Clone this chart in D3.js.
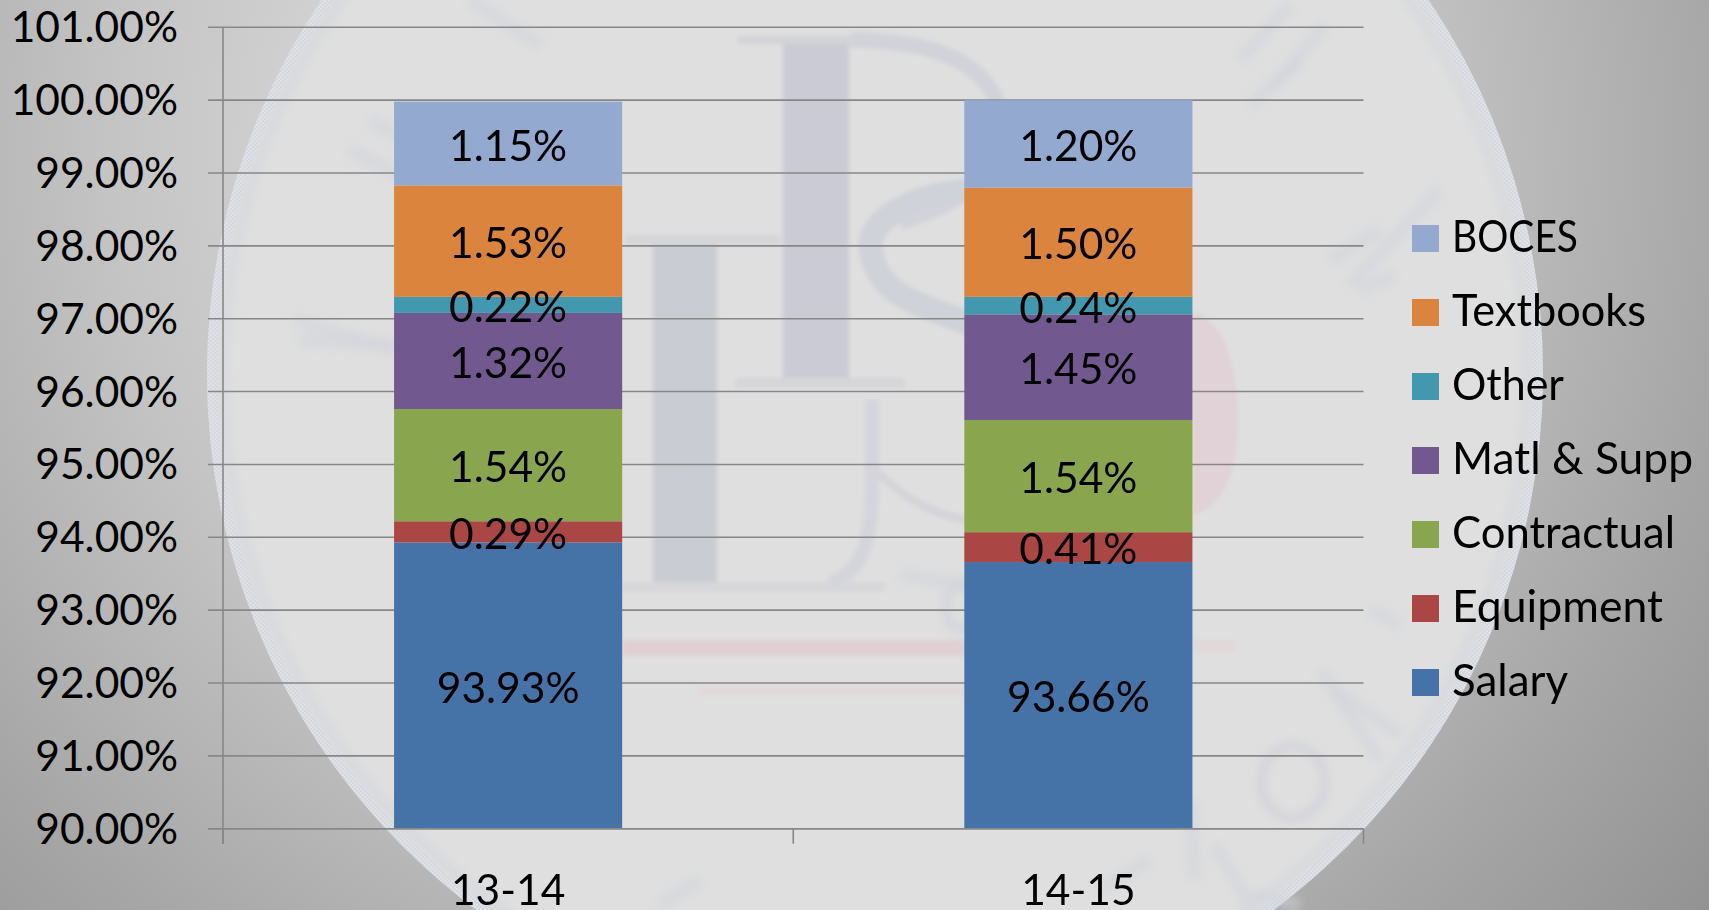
<!DOCTYPE html>
<html>
<head>
<meta charset="utf-8">
<script src="https://cdn.jsdelivr.net/npm/d3@7"></script>
<style>
html,body{margin:0;padding:0;background:#aaa;overflow:hidden}
svg{display:block}
text{font-family:Lato,"Open Sans",sans-serif;fill:#000}
</style>
</head>
<body>
<svg id="chart" width="1709" height="910"></svg>
<script>
const categories = ["13-14", "14-15"];
const seriesNames = ["Salary", "Equipment", "Contractual", "Matl & Supp", "Other", "Textbooks", "BOCES"];
const salary = [93.93, 93.66];
const equipment = [0.29, 0.41];
const contractual = [1.54, 1.54];
const matlSupp = [1.32, 1.45];
const other = [0.22, 0.24];
const textbooks = [1.53, 1.50];
const boces = [1.15, 1.20];
const seriesColors = ["#4572A7", "#AA4643", "#89A54E", "#71588F", "#4198AF", "#DB843D", "#93A9CF"];
const yTicks = [90, 91, 92, 93, 94, 95, 96, 97, 98, 99, 100, 101];

const seriesValues = [salary, equipment, contractual, matlSupp, other, textbooks, boces];
const table = categories.map((c, i) => {
  const row = {category: c};
  seriesNames.forEach((s, j) => row[s] = seriesValues[j][i]);
  return row;
});

const W = 1709, H = 910, FS = 42.5;
const svg = d3.select("#chart");
const defs = svg.append("defs");

const grad = defs.append("radialGradient").attr("id", "bg")
  .attr("gradientUnits", "userSpaceOnUse")
  .attr("cx", 760).attr("cy", 150).attr("r", 1300);
[[0, "#f0f0f0"], [0.5, "#c4c4c4"], [0.75, "#a6a6a6"], [1, "#8c8c8c"]]
  .forEach(s => grad.append("stop").attr("offset", s[0]).attr("stop-color", s[1]));
defs.append("filter").attr("id", "blur").attr("x", "-30%").attr("y", "-30%").attr("width", "160%").attr("height", "160%")
  .append("feGaussianBlur").attr("stdDeviation", 4);
defs.append("filter").attr("id", "blur2").attr("x", "-20%").attr("y", "-20%").attr("width", "140%").attr("height", "140%")
  .append("feGaussianBlur").attr("stdDeviation", 2);
const dither = defs.append("pattern").attr("id", "dither").attr("patternUnits", "userSpaceOnUse").attr("width", 4).attr("height", 4);
dither.append("rect").attr("width", 4).attr("height", 4).attr("fill", "#cfd4dd");
dither.append("rect").attr("width", 2).attr("height", 2).attr("fill", "#e2e4ea");
dither.append("rect").attr("x", 2).attr("y", 2).attr("width", 2).attr("height", 2).attr("fill", "#e2e4ea");

// backdrop: gradient slide background and faded seal
svg.append("rect").attr("width", W).attr("height", H).attr("fill", "url(#bg)");
const seal = svg.append("g");
seal.append("circle").attr("cx", 875).attr("cy", 374).attr("r", 668).attr("fill", "#dfdfdf");
seal.append("circle").attr("cx", 875).attr("cy", 374).attr("r", 663).attr("fill", "none")
  .attr("stroke", "url(#dither)").attr("stroke-width", 10).attr("opacity", 0.6);
seal.append("circle").attr("cx", 875).attr("cy", 374).attr("r", 652).attr("fill", "none")
  .attr("stroke", "#cdd2da").attr("stroke-width", 12).attr("opacity", 0.4).attr("filter", "url(#blur)");

const wm = seal.append("g").attr("filter", "url(#blur2)");
// P
wm.append("path").attr("d", "M783 44H849V384H783Z").attr("fill", "#cbcbd6");
wm.append("path").attr("d", "M738 36H900V44H738Z").attr("fill", "#d3d3d7");
wm.append("path").attr("d", "M735 378H905V388H735Z").attr("fill", "#d6d6d9");
wm.append("path").attr("d", "M850 40C930 40 985 60 1000 110C1010 170 960 205 900 222").attr("fill", "none").attr("stroke", "#d2d3da").attr("stroke-width", 16);
// S
wm.append("path").attr("d", "M985 190C930 190 875 210 870 245C875 290 905 300 960 320C1000 335 1015 350 1010 385").attr("fill", "none").attr("stroke", "#d0d2d9").attr("stroke-width", 24);
// L
wm.append("path").attr("d", "M653 245H717V585H653Z").attr("fill", "#c9ccd2");
wm.append("path").attr("d", "M625 235H780V245H625Z").attr("fill", "#d6d6d9");
wm.append("path").attr("d", "M622 582H885V592H622Z").attr("fill", "#d7d7da");
wm.append("path").attr("d", "M872 400V480C872 550 860 570 830 584").attr("fill", "none").attr("stroke", "#d4d4dc").attr("stroke-width", 14);
wm.append("path").attr("d", "M870 465C900 495 930 515 968 520").attr("fill", "none").attr("stroke", "#d4d4d9").attr("stroke-width", 8);
// red swooshes and blob
wm.append("path").attr("d", "M622 640H975V656H622Z").attr("fill", "#e0d0d3");
wm.append("path").attr("d", "M1193 640H1235V652H1193Z").attr("fill", "#e0d8d9");
wm.append("path").attr("d", "M700 686H975V696H700Z").attr("fill", "#e3d8d9");
wm.append("path").attr("d", "M1193 312C1225 320 1238 370 1238 420C1238 470 1225 505 1193 515Z").attr("fill", "#e0d2d6");
// seal lettering, faded beyond reading
const strokes = [
  "M1240 60L1290 5", "M1275 85L1325 25", "M1250 105L1300 60", "M1350 285L1440 190", "M1330 260L1380 230", "M1360 290L1395 275",
  "M1335 690L1400 735", "M1320 670L1380 760", "M1370 610L1400 625", "M1215 845L1250 905", "M1190 800L1195 880", "M1250 895L1300 905",
  "M370 120L440 160", "M350 150L430 190", "M295 320L395 350", "M300 340L395 345", "M470 0L540 45", "M1100 890L1150 860",
  "M660 905L700 880", "M450 700L500 660", "M485 720L520 700", "M900 575L1000 590"
];
seal.append("g").attr("filter", "url(#blur)").selectAll("path").data(strokes).join("path")
  .attr("d", d => d).attr("fill", "none").attr("stroke", "#cfd3da").attr("stroke-width", 12).attr("opacity", 0.55);
seal.append("ellipse").attr("cx", 1293).attr("cy", 782).attr("rx", 32).attr("ry", 36)
  .attr("fill", "none").attr("stroke", "#d2d3da").attr("stroke-width", 8).attr("filter", "url(#blur)");
seal.append("ellipse").attr("cx", 960).attr("cy", 607).attr("rx", 14).attr("ry", 22)
  .attr("fill", "none").attr("stroke", "#d2d4dc").attr("stroke-width", 8).attr("filter", "url(#blur)");

// scales
const plot = {left: 223, right: 1363.5, top: 27.3, bottom: 828.7};
const x = d3.scaleBand().domain(categories).range([plot.left, plot.right]).paddingInner(0).paddingOuter(0);
const barW = x.bandwidth() * 0.4;
const y = d3.scaleLinear().domain([90, 101]).range([plot.bottom, plot.top]).clamp(true);

const lineColor = "#878787";
// gridlines and value axis
const yAxis = d3.axisLeft(y).tickValues(yTicks).tickSize(0).tickPadding(0).tickFormat(d => d.toFixed(2) + "%");
const yG = svg.append("g").attr("transform", `translate(${plot.left},0)`);
yG.selectAll("line.grid").data(yTicks).join("line").attr("class", "grid")
  .attr("x1", -15).attr("x2", plot.right - plot.left)
  .attr("y1", d => y(d)).attr("y2", d => y(d))
  .attr("stroke", lineColor).attr("stroke-width", 1.6);
yG.append("line").attr("y1", plot.top).attr("y2", plot.bottom + 15)
  .attr("stroke", lineColor).attr("stroke-width", 1.6);
const yLab = svg.append("g").attr("transform", `translate(${plot.left - 45},0)`).call(yAxis);
yLab.select(".domain").remove();
yLab.selectAll("text").attr("font-size", FS).attr("dy", "0.34em").style("font-family", "Lato");

// stacked bars
const stack = d3.stack().keys(seriesNames);
const layers = stack(table);
const xBar = c => x(c) + (x.bandwidth() - barW) / 2;
const gLayers = svg.append("g").selectAll("g").data(layers).join("g")
  .attr("fill", (d, i) => seriesColors[i]);
gLayers.selectAll("rect").data(d => d).join("rect")
  .attr("x", d => xBar(d.data.category)).attr("width", barW)
  .attr("y", d => y(d[1])).attr("height", d => y(d[0]) - y(d[1]));
// category axis line redrawn over the foot of the bars
svg.append("line").attr("x1", plot.left - 15).attr("x2", plot.right)
  .attr("y1", y(90)).attr("y2", y(90)).attr("stroke", lineColor).attr("stroke-width", 1.6);
const bounds = categories.map(c => x(c)).concat([plot.right]);
svg.append("g").selectAll("line").data(bounds).join("line")
  .attr("x1", d => d).attr("x2", d => d).attr("y1", plot.bottom).attr("y2", plot.bottom + 15)
  .attr("stroke", lineColor).attr("stroke-width", 1.6);

// data labels
svg.append("g").selectAll("g").data(layers).join("g").selectAll("text")
  .data(d => d.map((p, i) => ({p, v: seriesValues[d.index][i]})))
  .join("text")
  .attr("text-anchor", "middle").attr("font-size", FS)
  .attr("x", d => x(d.p.data.category) + x.bandwidth() / 2)
  .attr("y", d => (y(d.p[0]) + y(d.p[1])) / 2 + 17)
  .text(d => d.v.toFixed(2) + "%");

// category labels
const xAxis = d3.axisBottom(x).tickSize(0).tickPadding(0);
const xLab = svg.append("g").attr("transform", "translate(0,905)").call(xAxis);
xLab.select(".domain").remove();
xLab.selectAll("text").attr("font-size", FS).attr("dy", 0).attr("y", 0).style("font-family", "Lato");

// legend, top row is the last series
const legendOrder = seriesNames.slice().reverse();
const legendWidths = [126, 194, 112, 241, 223, 211, 116];
const ly = d3.scalePoint().domain(legendOrder).range([225, 669]);
const lg = svg.append("g").selectAll("g").data(legendOrder).join("g")
  .attr("transform", d => `translate(1412,${ly(d)})`);
lg.append("rect").attr("width", 27).attr("height", 27)
  .attr("fill", d => seriesColors[seriesNames.indexOf(d)]);
lg.append("text").attr("x", 40).attr("y", 26.5).attr("font-size", 44)
  .attr("textLength", (d, i) => legendWidths[i]).attr("lengthAdjust", "spacingAndGlyphs").text(d => d);
</script>
</body>
</html>
